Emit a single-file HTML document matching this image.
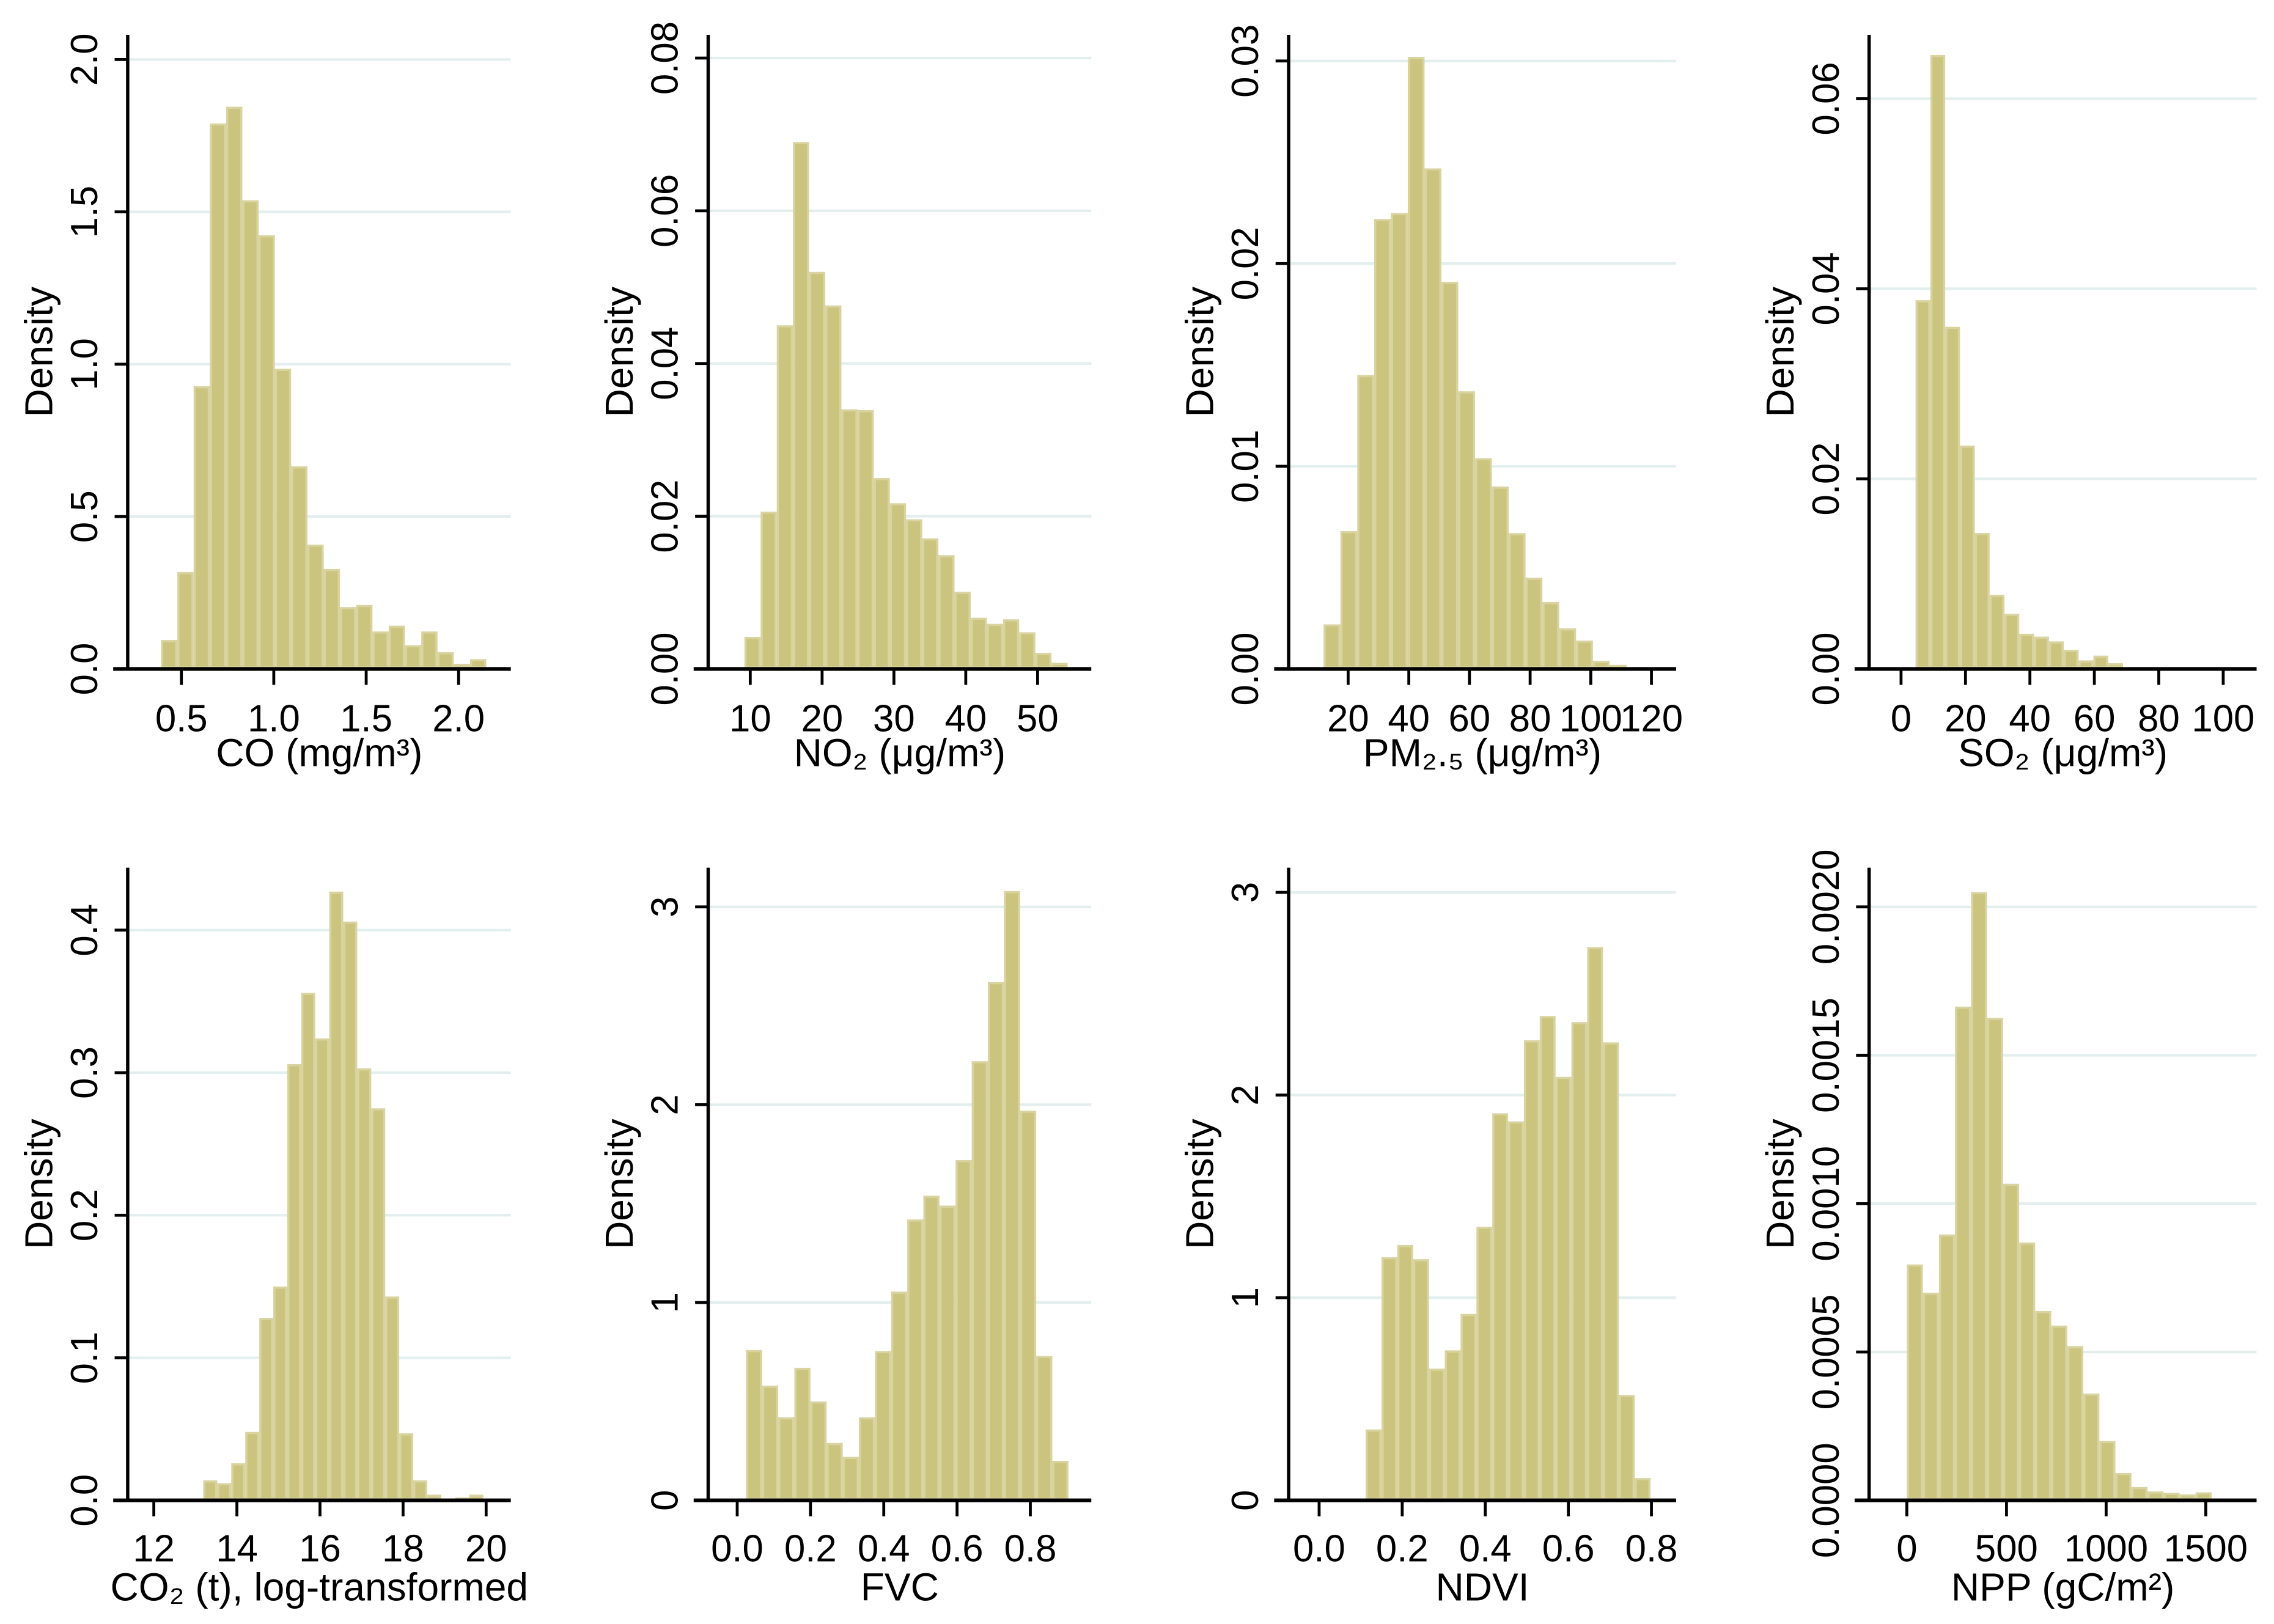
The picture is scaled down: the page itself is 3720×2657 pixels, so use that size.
<!DOCTYPE html>
<html><head><meta charset="utf-8"><style>
html,body{margin:0;padding:0;background:#fff}
svg{display:block}
text{font-family:"Liberation Sans",Arial,sans-serif;fill:#000}
</style></head><body>
<svg id="chart" xmlns="http://www.w3.org/2000/svg" width="3720" height="2657" viewBox="0 0 1567 1119.2"></svg>
<script>
// ---- data ----
const coBins=[0.095,0.318,0.928,1.79,1.845,1.538,1.423,0.985,0.665,0.408,0.328,0.203,0.21,0.123,0.142,0.078,0.123,0.055,0.017,0.032];
const coYTicks=["0.0","0.5","1.0","1.5","2.0"];
const coXTicks=["0.5","1.0","1.5","2.0"];
const no2Bins=[0.0042,0.0206,0.045,0.069,0.052,0.0476,0.034,0.0339,0.025,0.0217,0.0196,0.0171,0.0149,0.0101,0.0067,0.0059,0.0065,0.0048,0.0021,0.0008];
const no2YTicks=["0.00","0.02","0.04","0.06","0.08"];
const no2XTicks=["10","20","30","40","50"];
const pmBins=[0.0022,0.0068,0.0145,0.0222,0.0225,0.0302,0.0247,0.0191,0.0137,0.0104,0.009,0.0067,0.0045,0.0033,0.002,0.0014,0.0004,0.0002];
const pmYTicks=["0.00","0.01","0.02","0.03"];
const pmXTicks=["20","40","60","80","100","120"];
const so2Bins=[0.0388,0.0646,0.036,0.0235,0.0143,0.0078,0.0058,0.0037,0.0034,0.0029,0.002,0.0009,0.0014,0.0006,0.0002];
const so2YTicks=["0.00","0.02","0.04","0.06"];
const so2XTicks=["0","20","40","60","80","100"];
const co2Bins=[0.014,0.012,0.026,0.048,0.128,0.15,0.306,0.356,0.324,0.427,0.406,0.303,0.275,0.143,0.047,0.014,0.004,0.001,0.002,0.004];
const co2YTicks=["0.0","0.1","0.2","0.3","0.4"];
const co2XTicks=["12","14","16","18","20"];
const fvcBins=[0.76,0.58,0.42,0.67,0.5,0.29,0.22,0.42,0.755,1.055,1.42,1.54,1.49,1.72,2.22,2.62,3.08,1.97,0.73,0.2];
const fvcYTicks=["0","1","2","3"];
const fvcXTicks=["0.0","0.2","0.4","0.6","0.8"];
const ndviBins=[0.35,1.2,1.26,1.19,0.65,0.74,0.92,1.35,1.91,1.87,2.27,2.39,2.09,2.36,2.73,2.26,0.52,0.11];
const ndviYTicks=["0","1","2","3"];
const ndviXTicks=["0.0","0.2","0.4","0.6","0.8"];
const nppBins=[0.000795,0.0007,0.000896,0.001664,0.00205,0.001626,0.001067,0.000869,0.000638,0.000589,0.00052,0.00036,0.0002,0.000092,0.000045,0.00003,0.000025,0.00002,0.000027,0.000007];
const nppYTicks=["0.0000","0.0005","0.0010","0.0015","0.0020"];
const nppXTicks=["0","500","1000","1500"];

const panels=[
 {name:"co",bins:coBins,start:0.39,width:0.088,yt:coYTicks,xt:coXTicks,title:"CO (mg/m³)",ax:88,right:352,row:0,xv:[0.5,2.0],xp:[125,316],yv:2.0,yp:41},
 {name:"no2",bins:no2Bins,start:9.19,width:2.25,yt:no2YTicks,xt:no2XTicks,title:"NO₂ (μg/m³)",ax:488,right:752,row:0,xv:[10,50],xp:[517,715],yv:0.08,yp:40},
 {name:"pm25",bins:pmBins,start:11.9,width:5.55,yt:pmYTicks,xt:pmXTicks,title:"PM₂.₅ (μg/m³)",ax:888,right:1155,row:0,xv:[20,120],xp:[929,1138],yv:0.03,yp:42},
 {name:"so2",bins:so2Bins,start:4.5,width:4.6,yt:so2YTicks,xt:so2XTicks,title:"SO₂ (μg/m³)",ax:1288,right:1555,row:0,xv:[0,100],xp:[1310,1532],yv:0.06,yp:68},
 {name:"co2",bins:co2Bins,start:13.19,width:0.337,yt:co2YTicks,xt:co2XTicks,title:"CO₂ (t), log-transformed",ax:88,right:352,row:1,xv:[12,20],xp:[106,335],yv:0.4,yp:641},
 {name:"fvc",bins:fvcBins,start:0.024,width:0.044,yt:fvcYTicks,xt:fvcXTicks,title:"FVC",ax:488,right:752,row:1,xv:[0,0.8],xp:[508,710],yv:3,yp:625},
 {name:"ndvi",bins:ndviBins,start:0.112,width:0.0381,yt:ndviYTicks,xt:ndviXTicks,title:"NDVI",ax:888,right:1155,row:1,xv:[0,0.8],xp:[909,1138],yv:3,yp:615},
 {name:"npp",bins:nppBins,start:0,width:80.5,yt:nppYTicks,xt:nppXTicks,title:"NPP (gC/m²)",ax:1288,right:1555,row:1,xv:[0,1500],xp:[1314,1520],yv:0.002,yp:625}
];
const rows=[{zero:461,top:24,tickY:504,titleY:528},{zero:1034,top:598,tickY:1076,titleY:1103}];
const NS="http://www.w3.org/2000/svg";
const svg=document.getElementById("chart");
function mk(tag,attrs,parent){const e=document.createElementNS(NS,tag);for(const k in attrs)e.setAttribute(k,attrs[k]);(parent||svg).appendChild(e);return e;}

panels.forEach(p=>{
  const r=rows[p.row];
  const g=mk("g",{});
  
  
  const xs=v=>p.xp[0]+(v-p.xv[0])*(p.xp[1]-p.xp[0])/(p.xv[1]-p.xv[0]);
  const ys=v=>r.zero-(v/p.yv)*(r.zero-p.yp);
  p.yt.forEach(t=>{
    const v=parseFloat(t); if(v===0)return;
    const y=ys(v);
    const gl=mk("line",{x1:p.ax,x2:p.right,y1:y,y2:y,stroke:"#e3eeee","stroke-width":1.8},g);
    
    
  });
  p.bins.forEach((v,i)=>{
    const x0=xs(p.start+i*p.width), x1=xs(p.start+(i+1)*p.width);
    const y=ys(v);
    const b=mk("rect",{x:x0+0.75,y:y+0.75,width:Math.max(0,x1-x0-1.5),height:Math.max(0,r.zero-1-y-0.75),fill:"#cbc47e",stroke:"#d9d39f","stroke-width":1.5},g);
    
    
  });
  const ya=mk("line",{x1:p.ax,x2:p.ax,y1:r.top,y2:r.zero+1,stroke:"#000","stroke-width":2.3},g);
  
  
  p.yt.forEach(t=>{
    const y=ys(parseFloat(t));
    const tk=mk("line",{x1:p.ax-9,x2:p.ax,y1:y,y2:y,stroke:"#000","stroke-width":2},g);
    
    
    const tl=mk("text",{x:0,y:0,"font-size":26,"text-anchor":"middle",transform:`translate(${p.ax-21},${y}) rotate(-90)`},g);
    tl.textContent=t;
    
    
  });
  const xa=mk("line",{x1:p.ax-10,x2:p.right,y1:r.zero,y2:r.zero,stroke:"#000","stroke-width":2.6},g);
  
  
  p.xt.forEach(t=>{
    const x=xs(parseFloat(t));
    const tk=mk("line",{x1:x,x2:x,y1:r.zero,y2:r.zero+11,stroke:"#000","stroke-width":2},g);
    
    
    const tl=mk("text",{x:x,y:r.tickY,"font-size":26,"text-anchor":"middle"},g);
    tl.textContent=t;
    
    
  });
  const xt=mk("text",{x:(p.ax+p.right)/2,y:r.titleY,"font-size":27,"text-anchor":"middle"},g);
  xt.textContent=p.title;
  
  
  const yc=(r.top+r.zero)/2;
  const yt=mk("text",{x:0,y:0,"font-size":27,"text-anchor":"middle",transform:`translate(${p.ax-52},${yc}) rotate(-90)`},g);
  yt.textContent="Density";
  
  
});
</script>
</body></html>
